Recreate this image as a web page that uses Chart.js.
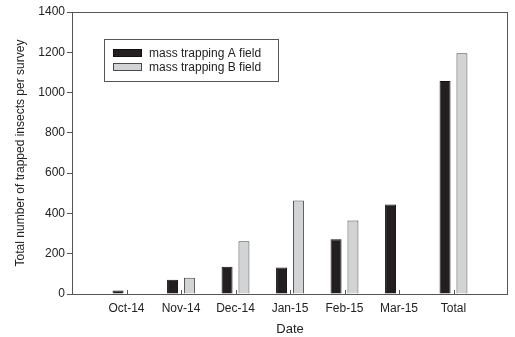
<!DOCTYPE html>
<html>
<head>
<meta charset="utf-8">
<script src="https://cdn.jsdelivr.net/npm/chart.js@4/dist/chart.umd.min.js"></script>
<style>
  html, body { margin: 0; padding: 0; background: #fff; }
  #wrap { width: 515px; height: 337px; }
</style>
</head>
<body>
<div id="wrap"><canvas id="c" width="515" height="337"></canvas></div>
<script>
// Survey months plus the season total
const categories = ['Oct-14', 'Nov-14', 'Dec-14', 'Jan-15', 'Feb-15', 'Mar-15', 'Total'];
// Trapped insects per survey
const fieldA = [17, 71, 135, 132, 272, 444, 1057];
const fieldB = [0, 81, 262, 464, 365, 0, 1195];
const seriesNames = ['mass trapping A field', 'mass trapping B field'];
const yTicks = [0, 200, 400, 600, 800, 1000, 1200, 1400];

// One empty slot on each side of the categories keeps the groups off the frame
const labels = [''].concat(categories, ['']);
const pad = arr => [null].concat(arr, [null]);

const FONT = "'Liberation Sans', Arial, Helvetica, sans-serif";
const INK = '#222';
const FRAME = '#555';

// Frame, inward x ticks and the boxed legend
const decorations = {
  id: 'decorations',
  afterDraw(chart, args, opts) {
    const ctx = chart.ctx;
    const a = chart.chartArea;
    ctx.save();
    ctx.strokeStyle = FRAME;
    ctx.lineWidth = 1;
    ctx.strokeRect(Math.round(a.left) + 0.5, Math.round(a.top) + 0.5,
                   Math.round(a.right - a.left) - 1, Math.round(a.bottom - a.top));

    // short tick marks pointing into the plot at each category centre
    const xs = chart.scales.x;
    ctx.beginPath();
    for (let i = 1; i <= categories.length; i++) {
      const px = Math.round(xs.getPixelForValue(i)) + 0.5;
      ctx.moveTo(px, a.bottom);
      ctx.lineTo(px, a.bottom - 4);
    }
    ctx.stroke();

    // legend
    const L = opts;
    ctx.fillStyle = '#fff';
    ctx.fillRect(L.x, L.y, L.w, L.h);
    ctx.strokeStyle = FRAME;
    ctx.strokeRect(L.x + 0.5, L.y + 0.5, L.w, L.h);
    ctx.font = '12px ' + FONT;
    ctx.textBaseline = 'middle';
    chart.data.datasets.forEach((ds, i) => {
      const yy = L.y + L.rowTop + i * L.rowGap;
      ctx.fillStyle = ds.backgroundColor;
      ctx.fillRect(L.x + 9, yy, 29, 8);
      ctx.strokeStyle = ds.borderColor;
      ctx.strokeRect(L.x + 9.5, yy + 0.5, 28, 7);
      ctx.fillStyle = INK;
      ctx.fillText(ds.label, L.x + 45, yy + 4.5);
    });
    ctx.restore();
  }
};

new Chart(document.getElementById('c'), {
  type: 'bar',
  data: {
    labels: labels,
    datasets: [
      {
        label: seriesNames[0],
        data: pad(fieldA),
        backgroundColor: '#231f20',
        borderColor: '#111',
        borderWidth: 1,
        borderSkipped: 'start'
      },
      {
        label: seriesNames[1],
        data: pad(fieldB),
        backgroundColor: '#d1d3d4',
        borderColor: '#4a4a4a',
        borderWidth: 1,
        borderSkipped: 'start'
      }
    ]
  },
  options: {
    responsive: false,
    animation: false,
    devicePixelRatio: 1,
    categoryPercentage: 0.62,
    barPercentage: 0.65,
    layout: { padding: { left: 13, right: 2, top: 12, bottom: 0 } },
    plugins: {
      legend: { display: false },
      tooltip: { enabled: false },
      decorations: { x: 104, y: 39, w: 174, h: 42, rowTop: 10, rowGap: 14 }
    },
    scales: {
      x: {
        offset: false,
        grid: { display: false, drawTicks: false },
        border: { display: false },
        ticks: {
          color: INK,
          font: { family: FONT, size: 12 },
          padding: 7,
          maxRotation: 0,
          autoSkip: false
        },
        title: {
          display: true,
          text: 'Date',
          color: INK,
          font: { family: FONT, size: 13 },
          padding: { top: 4, bottom: 0 }
        },
        afterFit(scale) { scale.height = 43; }
      },
      y: {
        min: 0,
        max: 1400,
        afterBuildTicks(scale) { scale.ticks = yTicks.map(v => ({ value: v })); },
        grid: { drawOnChartArea: false, drawTicks: true, tickLength: 5, color: FRAME },
        border: { display: false },
        ticks: {
          color: INK,
          font: { family: FONT, size: 12 },
          padding: 2,
          callback: v => String(v)
        },
        title: {
          display: true,
          text: 'Total number of trapped insects per survey',
          color: INK,
          font: { family: FONT, size: 12 },
          padding: { top: 0, bottom: 0 }
        },
        afterFit(scale) { scale.width = 59; }
      }
    }
  },
  plugins: [decorations]
});
</script>
</body>
</html>
